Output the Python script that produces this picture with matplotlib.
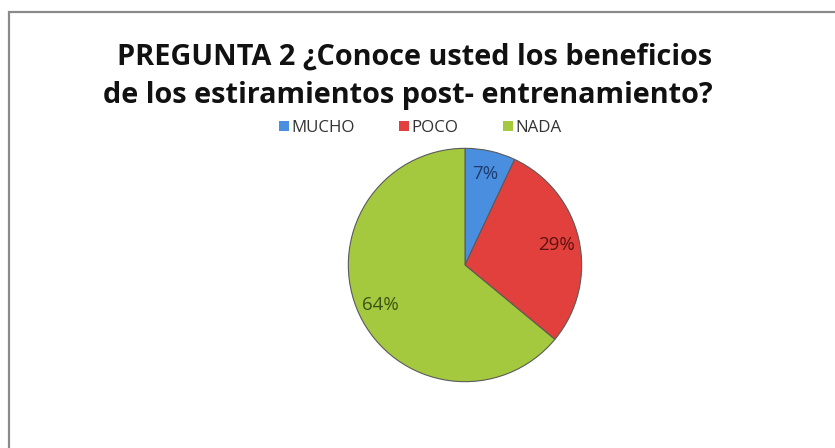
import matplotlib.pyplot as plt
from matplotlib.patches import Rectangle

categories = ["MUCHO", "POCO", "NADA"]
percents = [7, 29, 64]
slice_colors = ["#4a8ee0", "#e2403c", "#a4c93e"]
label_colors = ["#1c3d6e", "#5c1210", "#3d5214"]

fig = plt.figure(figsize=(8.35, 4.48), dpi=100)
fig.patch.set_facecolor("white")

# chart frame (only top and left edges fall inside the image)
fig.add_artist(Rectangle((9 / 835, -0.1), 1.2, (448 - 12) / 448 + 0.1,
                         transform=fig.transFigure, fill=False,
                         edgecolor="#8a8a8a", linewidth=1.6))

fig.text(0.497, 1 - 57 / 448, "PREGUNTA 2 ¿Conoce usted los beneficios",
         ha="center", va="center", fontsize=20.8, fontweight="bold",
         family="Open Sans", color="#111111")
fig.text(0.488, 1 - 96 / 448, "de los estiramientos post- entrenamiento?",
         ha="center", va="center", fontsize=20.8, fontweight="bold",
         family="Open Sans", color="#111111")

r = 119
cx, cy = 465, 265
ax = fig.add_axes([(cx - r) / 835, (448 - cy - r) / 448, 2 * r / 835, 2 * r / 448])

wedges, texts, autotexts = ax.pie(
    percents, colors=slice_colors, startangle=90, counterclock=False,
    autopct="%d%%", pctdistance=0.8,
    wedgeprops=dict(edgecolor="#5a5a5a", linewidth=0.8),
    textprops=dict(fontsize=13.5, family="Open Sans"))
for t, c in zip(autotexts, label_colors):
    t.set_color(c)
ax.set_aspect("equal")
ax.set_xlim(-1.02, 1.02)
ax.set_ylim(-1.02, 1.02)

leg = fig.legend(wedges, categories, loc="center", bbox_to_anchor=(0.503, 1 - 128 / 448),
                 ncol=3, frameon=False, handlelength=0.6, handleheight=0.6,
                 handletextpad=0.15, columnspacing=2.6,
                 prop=dict(family="Open Sans", size=12.2))
for t in leg.get_texts():
    t.set_color("#333333")
for h in leg.legend_handles:
    h.set_linewidth(0)

fig.savefig("out.png", dpi=100)
